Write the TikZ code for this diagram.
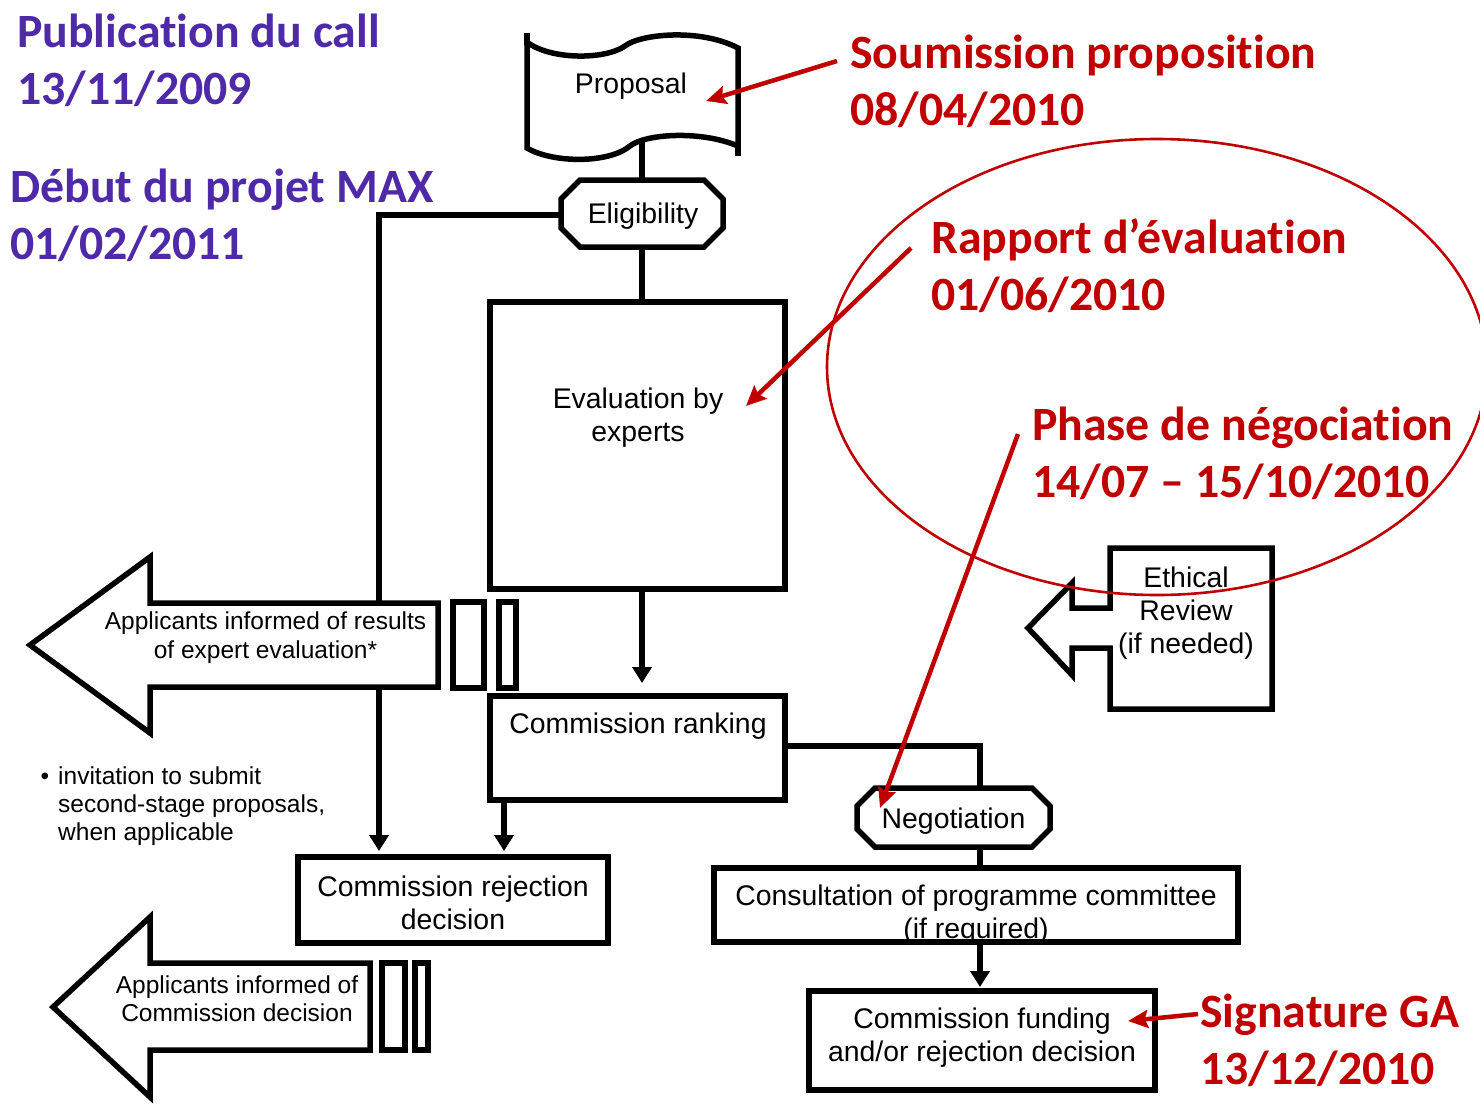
\documentclass[tikz,border=0pt]{standalone}
\usepackage{fontspec}
\setmainfont{Liberation Sans}
\newfontfamily\calfont{Carlito}[Ligatures=NoCommon]
\usetikzlibrary{arrows.meta}
\definecolor{pur}{RGB}{78,42,168}
\definecolor{dred}{RGB}{192,0,0}
\begin{document}
\begin{tikzpicture}[x=1pt,y=-1pt,
  boxn/.style={draw, line width=6pt, fill=white, inner sep=0pt, outer sep=0pt, rectangle},
  ghost/.style={inner sep=0pt, outer sep=0pt, rectangle},
  txtL/.style={font=\fontsize{28.4}{33}\selectfont, align=center, inner sep=0pt},
  txtS/.style={font=\fontsize{24.5}{29}\selectfont, align=center, inner sep=0pt},
  conn/.style={line width=5.5pt},
  arr/.style={line width=5.5pt, -{Triangle[length=16pt,width=19pt]}},
  octline/.style={line width=5.5pt, line join=miter},
  annot/.style={font=\fontsize{47.8}{57}\selectfont\calfont\bfseries, inner sep=0pt, anchor=base west},
  redarr/.style={draw=dred, line width=4.5pt, -{Stealth[length=20pt,width=18pt,inset=3pt]}},
  shapeline/.style={line width=5.5pt, fill=white, line join=miter}
]
\useasboundingbox[fill=white] (0,0) rectangle (1480,1103);

% ---------- Proposal (document shape)
\draw[shapeline] (527,42) .. controls (550,60) and (605,60) .. (625,46)
  .. controls (640,34) and (700,28) .. (738,48) -- (738,146)
  .. controls (700,130) and (645,134) .. (630,146)
  .. controls (608,164) and (552,163) .. (527,148) -- cycle;
\draw[conn] (527,33) -- (527,45);
\draw[conn] (738,142) -- (738,156);
\node[txtL, anchor=base] (prop) at (631,93) {Proposal};
\coordinate (propb) at (642,139);

% ---------- main nodes
\node[ghost, minimum width=162pt, minimum height=67pt] (elig) at (642,213.5) {};
\node[txtL] (eligt) at (643,216) {Eligibility};
\node[boxn, minimum width=295pt, minimum height=287pt] (eval) at (637.5,445.5) {};
\node[txtL] (evalt) at (638,418) {Evaluation by\\experts};
\node[boxn, minimum width=295pt, minimum height=104pt] (rank) at (637.5,748) {};
\node[txtL] (rankt) at (638,726) {Commission ranking};
\node[boxn, minimum width=310pt, minimum height=86pt] (rej) at (453,900) {};
\node[txtL] (rejt) at (453,902.5) {Commission rejection\\decision};
\node[ghost, minimum width=193pt, minimum height=59pt] (nego) at (953.5,817.5) {};
\node[txtL] (negot) at (953.5,821) {Negotiation};
\node[boxn, minimum width=524pt, minimum height=74pt] (consult) at (976,905) {};
\node[txtL] (consultt) at (976,915) {Consultation of programme committee\\(if required)};
\node[boxn, minimum width=346pt, minimum height=99pt] (fund) at (982,1040.5) {};
\node[txtL] (fundt) at (982,1038) {Commission funding\\and/or rejection decision};

% ---------- octagons
\draw[octline] ([xshift=19pt]elig.north west) -- ([xshift=-19pt]elig.north east)
  -- ([yshift=-19pt]elig.north east) -- ([yshift=19pt]elig.south east)
  -- ([xshift=-19pt]elig.south east) -- ([xshift=19pt]elig.south west)
  -- ([yshift=19pt]elig.south west) -- ([yshift=-19pt]elig.north west) -- cycle;
\draw[octline] ([xshift=18pt]nego.north west) -- ([xshift=-18pt]nego.north east)
  -- ([yshift=-18pt]nego.north east) -- ([yshift=18pt]nego.south east)
  -- ([xshift=-18pt]nego.south east) -- ([xshift=18pt]nego.south west)
  -- ([yshift=18pt]nego.south west) -- ([yshift=-18pt]nego.north west) -- cycle;

% ---------- connectors
\draw[conn] (propb) -- (elig.north);
\draw[conn] (elig.south) -- (elig.south |- eval.north);
\draw[arr, shorten >=13pt] (elig.south |- eval.south) -- (elig.south |- rank.north);
\draw[arr, shorten >=6pt] ([yshift=-1.5pt]elig.west) -| ([xshift=-74pt]rej.north);
\draw[arr, shorten >=6pt] ([xshift=-133.5pt]rank.south) -- ([xshift=-133.5pt]rank.south |- rej.north);
\draw[conn] ([yshift=2pt]rank.east) -| ([xshift=26.5pt]nego.north);
\draw[conn] ([xshift=26.5pt]nego.south) -- ([xshift=26.5pt]nego.south |- consult.north);
\draw[arr, shorten >=4pt] ([xshift=4pt]consult.south) -- ([xshift=4pt]consult.south |- fund.north);

% ---------- big arrow 1
\draw[shapeline] (438,603) -- (150,603) -- (150,557) -- (30,645) -- (150,733) -- (150,687) -- (438,687) -- cycle;
\draw[conn] (453,602) rectangle (484,688);
\draw[conn] (499,602) rectangle (516,688);
\node[txtS] (inf1) at (265.5,638) {Applicants informed of results\\of expert evaluation*};

% ---------- big arrow 2
\draw[shapeline] (370,963) -- (150,963) -- (150,917) -- (53,1007) -- (150,1097) -- (150,1050) -- (370,1050) -- cycle;
\draw[conn] (382,963) rectangle (405,1050);
\draw[conn] (415,963) rectangle (428,1050);
\node[txtS, font=\fontsize{24.5}{28}\selectfont] (inf2) at (237,999) {Applicants informed of\\Commission decision};

% ---------- footnote
\node[txtS, font=\fontsize{24.5}{28}\selectfont, align=left, anchor=west] (foot) at (58,806)
  {\llap{\textbullet\hspace{9pt}}invitation to submit\\second-stage proposals,\\when applicable};

% ---------- ethical review
\draw[shapeline] (1110,548) -- (1110,608) -- (1072,608) -- (1072,583) -- (1028,628) -- (1072,675)
  -- (1072,648) -- (1110,648) -- (1110,709) -- (1272,709) -- (1272,548) -- cycle;
\node[txtL] (eth) at (1186,613) {Ethical\\Review\\(if needed)};

% ---------- annotations
\node[annot, text=pur] (a1) at (17,47) {\begin{tabular}[t]{@{}l@{}}Publication du call\\13/11/2009\end{tabular}};
\node[annot, text=pur] (a2) at (10,202) {\begin{tabular}[t]{@{}l@{}}Début du projet MAX\\01/02/2011\end{tabular}};
\node[annot, text=dred] (a3) at (850,68) {\begin{tabular}[t]{@{}l@{}}Soumission proposition\\08/04/2010\end{tabular}};
\node[annot, text=dred] (a4) at (931,253) {\begin{tabular}[t]{@{}l@{}}Rapport d’évaluation\\01/06/2010\end{tabular}};
\node[annot, text=dred] (a5) at (1032,440) {\begin{tabular}[t]{@{}l@{}}Phase de négociation\\14/07 – 15/10/2010\end{tabular}};
\node[annot, text=dred] (a6) at (1200,1027) {\begin{tabular}[t]{@{}l@{}}Signature GA\\13/12/2010\end{tabular}};

% ---------- red ellipse
\draw[dred, line width=2.6pt] (1157,367) ellipse [x radius=330pt, y radius=228pt];

% ---------- red arrows
\coordinate (s1) at (837,61);   \coordinate (t1) at (706,101);
\coordinate (s2) at (911,248);  \coordinate (t2) at (746,406);
\coordinate (s3) at (1018,434); \coordinate (t3) at (880,808);
\coordinate (s4) at (1198,1014);\coordinate (t4) at (1128,1021);
\draw[redarr] (s1) -- (t1);
\draw[redarr] (s2) -- (t2);
\draw[redarr] (s3) -- (t3);
\draw[redarr] (s4) -- (t4);
\end{tikzpicture}
\end{document}
